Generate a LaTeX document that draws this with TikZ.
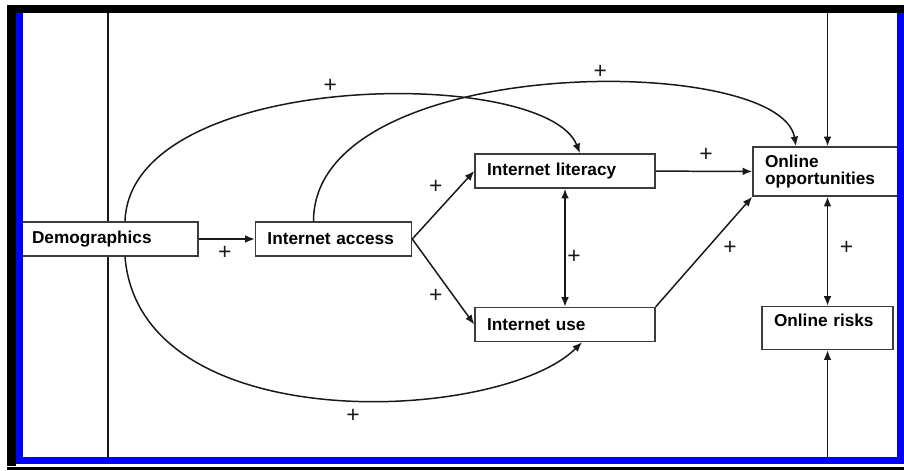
\documentclass[tikz,border=0pt]{standalone}
\usepackage{fontspec}
\setsansfont{Liberation Sans}
\usepackage{tikz}
\usetikzlibrary{positioning,arrows.meta}
\definecolor{frameblue}{RGB}{0, 0, 255}
\definecolor{boxline}{RGB}{60, 60, 60}
\definecolor{linkline}{RGB}{25, 25, 25}

\begin{document}
\begin{tikzpicture}[
    factor/.style={rectangle, draw=boxline, fill=white, line width=0.85pt,
                   align=left, inner xsep=0.24cm, minimum height=0.68cm,
                   font=\sffamily\bfseries\fontsize{9.8}{9.6}\selectfont},
    plus/.style={font=\sffamily\fontsize{13}{13}\selectfont, inner sep=0pt},
    arrow/.style={-{Latex[length=5.5pt, width=4.4pt]}, line width=0.85pt, linkline},
    biarrow/.style={{Latex[length=5.5pt, width=4.4pt]}-{Latex[length=5.5pt, width=4.4pt]},
                    line width=0.85pt, linkline},
    link/.style={line width=0.85pt, linkline}
]
\useasboundingbox (0,0) rectangle (18.08,-9.4);

% line behind the demographics box
\draw[link] (2.16,-0.254) -- (2.16,-9.14);

\node[factor, text width=3.08cm] (demo) at (2.18,-4.78) {Demographics};
\node[factor, text width=2.64cm, right=1.12cm of demo] (access) {Internet access};
\node[factor, text width=3.12cm] (literacy) at (11.3,-3.42) {Internet literacy};
\node[factor, text width=3.12cm, below=2.36cm of literacy] (use) {Internet use};
\node[factor, text width=2.50cm, minimum height=0.98cm] (opp) at (16.55,-3.43) {Online\\opportunities};
\node[factor, text width=2.14cm, inner ysep=0.155cm, text height=0.25cm, text depth=0.3cm,
      below=2.18cm of opp] (risks) {Online risks};

\coordinate (intop) at (opp.north |- 0,-0.254);
\coordinate (inbottom) at (risks.south |- 0,-9.14);

\draw[arrow] (intop) -- (opp);
\draw[arrow] (inbottom) -- (risks);

\draw[arrow] (demo) -- (access) node[plus, midway, shift={(-0.04,-0.28)}] {+};
\draw[arrow] (access.east) -- (literacy.west) node[plus, midway, shift={(-0.15,0.36)}] {+};
\draw[arrow] (access.east) -- (use.west) node[plus, midway, shift={(-0.15,-0.29)}] {+};
\draw[biarrow] (literacy) -- (use) node[plus, midway, shift={(0.18,-0.18)}] {+};
\draw[arrow] (literacy) -- (opp) node[plus, midway, shift={(0.04,0.33)}] {+};
\draw[arrow] (use.north east) -- (opp.south west) node[plus, midway, shift={(0.52,0.08)}] {+};
\draw[biarrow] (opp) -- (risks) node[plus, midway, shift={(0.38,0.07)}] {+};

\draw[arrow] ([xshift=0.32cm]demo.north) .. controls +(0.1,3.04) and +(-0.7,1.76) .. ([xshift=0.3cm]literacy.north)
    node[plus, pos=0.48, shift={(0.04,0.26)}] {+};
\draw[arrow] ([xshift=0.32cm]demo.south) .. controls +(0.3,-3.68) and +(-1.64,-1.62) .. ([xshift=0.34cm]use.south)
    node[plus, pos=0.54, shift={(0,-0.32)}] {+};
\draw[arrow] ([xshift=-0.4cm]access.north) .. controls +(0,3.38) and +(-0.32,1.88) .. ([xshift=-0.63cm]opp.north)
    node[plus, pos=0.57, shift={(0.04,0.22)}] {+};

% frame
\draw[frameblue, line width=0.14cm] (0.39,-0.18) rectangle (18.0,-9.21);
\fill (0.14,-0.1) rectangle (18.08,-0.254);
\fill (0.14,-0.1) rectangle (0.31,-9.32);
\fill (0.14,-9.34) rectangle (18.08,-9.4);
\end{tikzpicture}
\end{document}
